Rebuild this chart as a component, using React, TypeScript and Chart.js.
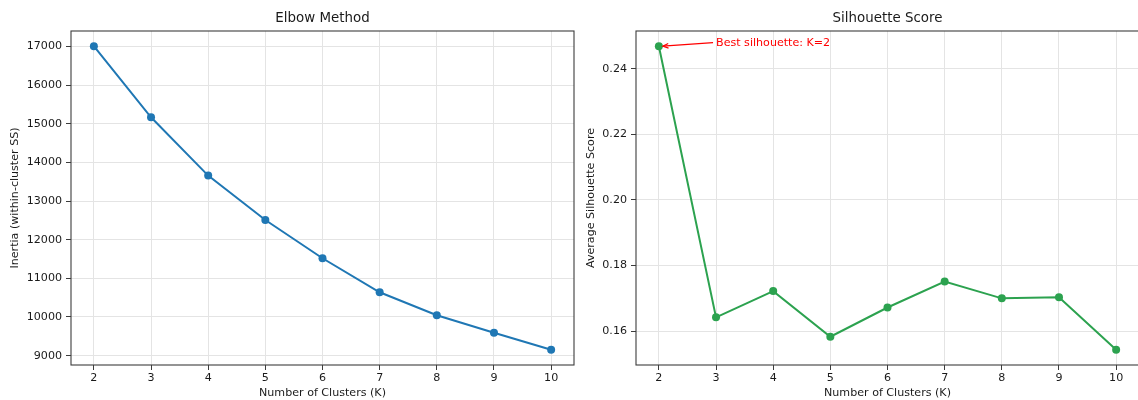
import React, { useEffect, useRef } from "react";
import { Chart, registerables } from "chart.js";

Chart.register(...registerables);

const K_VALUES = [2, 3, 4, 5, 6, 7, 8, 9, 10];
const INERTIA = [17010, 15170, 13660, 12510, 11520, 10640, 10045, 9590, 9150];
const SILHOUETTE = [0.2469, 0.1642, 0.1722, 0.1583, 0.1672, 0.1751, 0.17, 0.1703, 0.1543];
const INERTIA_TICKS = [9000, 10000, 11000, 12000, 13000, 14000, 15000, 16000, 17000];
const SILHOUETTE_TICKS = [0.16, 0.18, 0.2, 0.22, 0.24];

const FONT = "DejaVu Sans";
const TICK_FONT = { family: FONT, size: 11.1 };
const BLUE = "#1f77b4";
const GREEN = "#2ca24f";

function limits(vals: number[]) {
  const mn = Math.min(...vals);
  const mx = Math.max(...vals);
  const m = (mx - mn) * 0.05;
  return [mn - m, mx + m];
}

function decorPlugin(
  title: string,
  xlabel: string,
  ylabel: string,
  ylabelX: number,
  annotateValues: number[] | null
) {
  return {
    id: "decor",
    afterDraw(chart: any) {
      const { ctx, chartArea: a } = chart;
      ctx.save();
      // spines
      ctx.strokeStyle = "#3c3c3c";
      ctx.lineWidth = 1.1;
      ctx.strokeRect(a.left, a.top, a.right - a.left, a.bottom - a.top);
      // title
      ctx.fillStyle = "#1a1a1a";
      ctx.textAlign = "center";
      ctx.textBaseline = "middle";
      ctx.font = `13.4px "${FONT}"`;
      ctx.fillText(title, (a.left + a.right) / 2, 19);
      // x label
      ctx.font = `11.1px "${FONT}"`;
      ctx.fillText(xlabel, (a.left + a.right) / 2, 393);
      // y label
      ctx.save();
      ctx.translate(ylabelX, (a.top + a.bottom) / 2);
      ctx.rotate(-Math.PI / 2);
      ctx.fillText(ylabel, 0, 0);
      ctx.restore();
      if (annotateValues) {
        let bi = 0;
        annotateValues.forEach((v, i) => {
          if (v > annotateValues[bi]) bi = i;
        });
        const bestK = K_VALUES[bi];
        const best = annotateValues[bi];
        const xs = chart.scales.x;
        const ys = chart.scales.y;
        const px = xs.getPixelForValue(bestK);
        const py = ys.getPixelForValue(best);
        const tx = xs.getPixelForValue(3);
        const ty = ys.getPixelForValue(best);
        ctx.fillStyle = "#ff0000";
        ctx.textAlign = "left";
        ctx.textBaseline = "alphabetic";
        ctx.font = `11.1px "${FONT}"`;
        ctx.fillText(`Best silhouette: K=${bestK}`, tx, ty);
        // arrow
        const sx = tx - 3;
        const sy = ty - 3.5;
        const ex = px + 4;
        const ey = py;
        ctx.strokeStyle = "#ff0000";
        ctx.lineWidth = 1.2;
        ctx.beginPath();
        ctx.moveTo(sx, sy);
        ctx.lineTo(ex, ey);
        ctx.stroke();
        const ang = Math.atan2(sy - ey, sx - ex);
        const hl = 6;
        const hw = 0.4;
        ctx.beginPath();
        ctx.moveTo(ex + hl * Math.cos(ang + hw), ey + hl * Math.sin(ang + hw));
        ctx.lineTo(ex, ey);
        ctx.lineTo(ex + hl * Math.cos(ang - hw), ey + hl * Math.sin(ang - hw));
        ctx.stroke();
      }
      ctx.restore();
    },
  };
}

function buildConfig(
  values: number[],
  yTicks: number[],
  color: string,
  yWidth: number,
  rightPad: number,
  fmt: (v: number) => string,
  plugin: any
): any {
  const [ymin, ymax] = limits(values);
  const [xmin, xmax] = limits(K_VALUES);
  return {
    type: "line",
    data: {
      datasets: [
        {
          data: values.map((v, i) => ({ x: K_VALUES[i], y: v })),
          borderColor: color,
          backgroundColor: color,
          borderWidth: 2,
          pointRadius: 4,
          pointBorderWidth: 0,
          pointBackgroundColor: color,
          tension: 0,
          clip: false,
        },
      ],
    },
    options: {
      responsive: false,
      animation: false,
      devicePixelRatio: 1,
      layout: { autoPadding: false, padding: { top: 31, right: rightPad, left: 0, bottom: 0 } },
      plugins: { legend: { display: false }, tooltip: { enabled: false }, title: { display: false } },
      scales: {
        x: {
          type: "linear",
          min: xmin,
          max: xmax,
          afterBuildTicks: (s: any) => {
            s.ticks = K_VALUES.map((v) => ({ value: v }));
          },
          afterFit: (s: any) => {
            s.height = 35;
          },
          border: { display: false },
          grid: { color: "#e4e4e4", lineWidth: 1, tickLength: 5, tickColor: "#3c3c3c", tickWidth: 1 },
          ticks: {
            font: TICK_FONT,
            color: "#1a1a1a",
            padding: 1,
            maxRotation: 0,
            autoSkip: false,
            callback: (v: any) => String(v),
          },
        },
        y: {
          type: "linear",
          min: ymin,
          max: ymax,
          afterBuildTicks: (s: any) => {
            s.ticks = yTicks.map((v) => ({ value: v }));
          },
          afterFit: (s: any) => {
            s.width = yWidth;
          },
          border: { display: false },
          grid: { color: "#e4e4e4", lineWidth: 1, tickLength: 5, tickColor: "#3c3c3c", tickWidth: 1 },
          ticks: {
            font: TICK_FONT,
            color: "#1a1a1a",
            padding: 4,
            autoSkip: false,
            callback: (v: any) => fmt(Number(v)),
          },
        },
      },
    },
    plugins: [plugin],
  };
}

export default function App() {
  const leftRef = useRef<HTMLCanvasElement>(null);
  const rightRef = useRef<HTMLCanvasElement>(null);

  useEffect(() => {
    const c1 = new Chart(
      leftRef.current as HTMLCanvasElement,
      buildConfig(
        INERTIA,
        INERTIA_TICKS,
        BLUE,
        71,
        6,
        (v) => String(Math.round(v)),
        decorPlugin("Elbow Method", "Number of Clusters (K)", "Inertia (within-cluster SS)", 15, null)
      )
    );
    const c2 = new Chart(
      rightRef.current as HTMLCanvasElement,
      buildConfig(
        SILHOUETTE,
        SILHOUETTE_TICKS,
        GREEN,
        56,
        0,
        (v) => v.toFixed(2),
        decorPlugin("Silhouette Score", "Number of Clusters (K)", "Average Silhouette Score", 10.7, SILHOUETTE)
      )
    );
    return () => {
      c1.destroy();
      c2.destroy();
    };
  }, []);

  return (
    <div
      style={{
        position: "fixed",
        left: 0,
        top: 0,
        width: 1138,
        height: 400,
        overflow: "hidden",
        background: "#fff",
      }}
    >
      <canvas ref={leftRef} width={580} height={400} style={{ position: "absolute", left: 0, top: 0 }} />
      <canvas ref={rightRef} width={559} height={400} style={{ position: "absolute", left: 580, top: 0 }} />
    </div>
  );
}
